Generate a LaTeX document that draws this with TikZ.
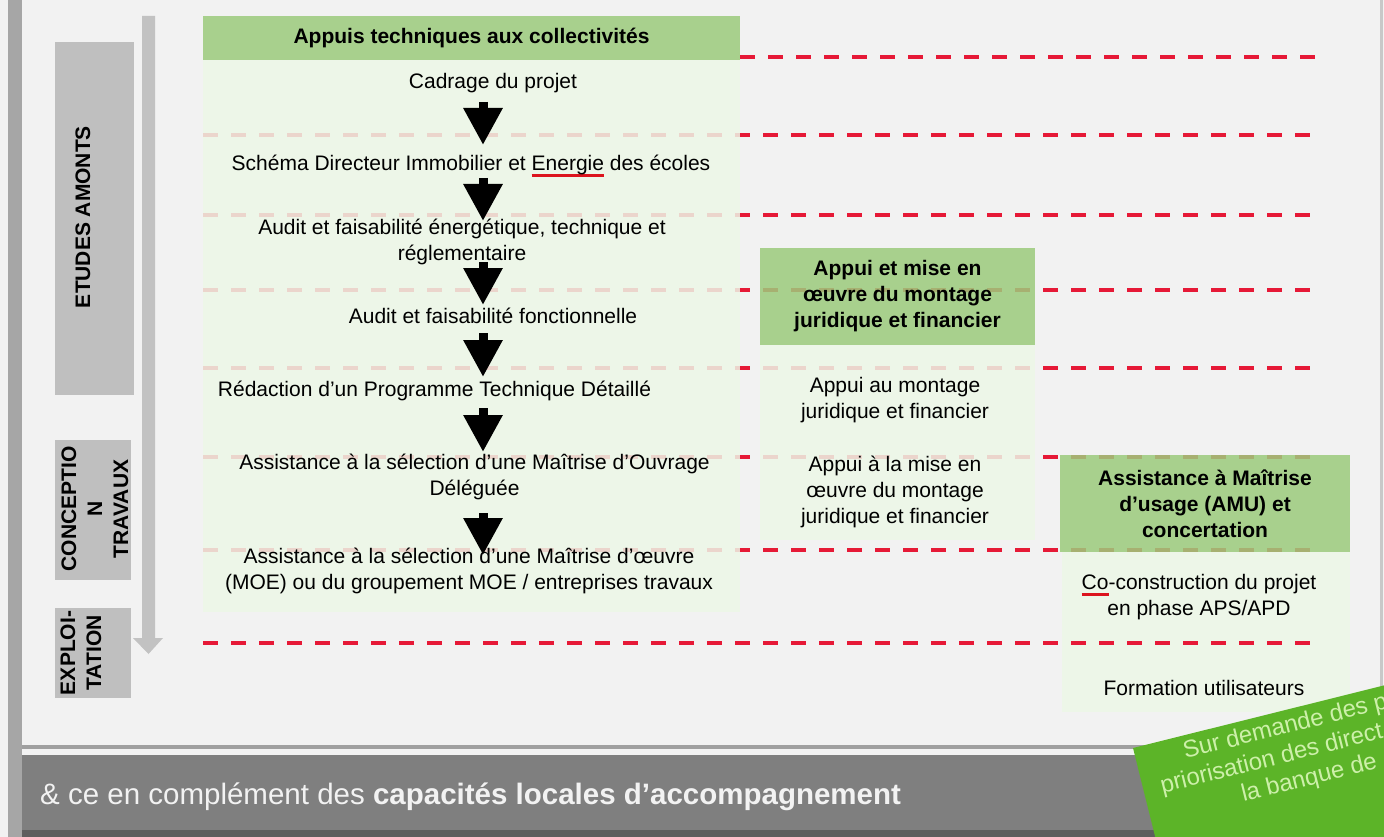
\documentclass[tikz,border=0pt]{standalone}
\usepackage{fontspec}
\setmainfont{Liberation Sans}
\usetikzlibrary{arrows.meta}
\definecolor{bgc}{RGB}{242,242,242}
\definecolor{leftbar}{RGB}{166,166,166}
\definecolor{phasegray}{RGB}{191,191,191}
\definecolor{arrowgray}{RGB}{194,194,194}
\definecolor{hdrgreen}{RGB}{156,203,124}
\definecolor{bodygreen}{RGB}{237,247,231}
\definecolor{dashred}{RGB}{230,25,55}
\definecolor{ulred}{RGB}{220,20,30}
\definecolor{btmgray}{RGB}{127,127,127}
\definecolor{btmdark}{RGB}{94,94,94}
\definecolor{btmline}{RGB}{160,160,160}
\definecolor{rborder}{RGB}{200,200,200}
\definecolor{bannergreen}{RGB}{92,180,40}
\definecolor{bannertext}{RGB}{205,240,170}
\newcommand\bfont{\fontsize{21}{26}\selectfont}
\newsavebox\ulbox
\newcommand\redul[1]{\sbox\ulbox{#1}\rlap{\color{ulred}\rule[-6pt]{\wd\ulbox}{2.5pt}}\usebox\ulbox}
\begin{document}
\begin{tikzpicture}[x=1pt,y=-1pt,
  hdr/.style={fill=hdrgreen, fill opacity=0.85, text opacity=1, font=\bfont\bfseries, align=center, inner sep=0pt, text=black},
  panelbody/.style={fill=bodygreen, fill opacity=0.85, inner sep=0pt, draw=none},
  steptxt/.style={font=\bfont, align=center, inner sep=0pt, text=black},
  phasetxt/.style={font=\bfont\bfseries, rotate=90, align=center, inner sep=0pt, text=black},
  reddash/.style={draw=dashred, line width=4pt, dash pattern=on 15pt off 13pt},
  blockarr/.style={draw=black, line width=9pt, -{Triangle[length=37pt,width=37pt]}},
  bannertxt/.style={font=\fontsize{24}{29}\selectfont, text=bannertext, inner sep=0pt, transform shape}
]
\useasboundingbox (0,0) rectangle (1384,837);
\clip (0,0) rectangle (1384,837);
\fill[bgc] (0,0) rectangle (1384,837);
% frame
\fill[leftbar] (8,0) rectangle (22,837);
\fill[rborder] (1380,0) rectangle (1383,746);
% gray time arrow
\fill[arrowgray] (142,16) -- (155,16) -- (155,638) -- (163,638) -- (148.5,654) -- (133,638) -- (142,638) -- cycle;
% phase boxes
\fill[phasegray] (55,42) rectangle (134,395);
\fill[phasegray] (55,440) rectangle (131,580);
\fill[phasegray] (55,608) rectangle (131,698);
\node[phasetxt] (p1) at (83,217) {ETUDES AMONTS};
\node[phasetxt] (p2) at (95,509) {CONCEPTIO\\N\\TRAVAUX};
\node[phasetxt] (p3) at (81,653) {EXPLOI-\\TATION};
% AMU body (below the dashes)
\node[panelbody, minimum width=288pt, minimum height=160pt] (body3) at (1206,632) {};
% dashed lines
\draw[reddash] (740,57) -- (1322,57);
\foreach \yy in {135,215,290,368,457,550,643}{
  \draw[reddash] (203,\yy) -- (1322,\yy);
}
% panel bodies
\node[panelbody, minimum width=537pt, minimum height=552pt] (body1) at (471.5,336) {};
\node[panelbody, minimum width=275pt, minimum height=195pt] (body2) at (897.5,442.5) {};
% headers
\node[hdr, minimum width=537pt, minimum height=44pt] (hdr1) at (471.5,38) {Appuis techniques aux collectivités};
\node[hdr, minimum width=275pt, minimum height=97pt] (hdr2) at (897.5,296.5) {Appui et mise en\\œuvre du montage\\juridique et financier};
\node[hdr, minimum width=290pt, minimum height=97pt] (hdr3) at (1205,503.5) {Assistance à Maîtrise\\d'usage (AMU) et\\concertation};
% steps
\node[steptxt] (s1) at (493,83) {Cadrage du projet};
\node[steptxt] (s2) at (471,166) {Schéma Directeur Immobilier et \redul{Energie} des écoles};
\node[steptxt] (s3) at (462,241.5) {Audit et faisabilité énergétique, technique et\\réglementaire};
\node[steptxt] (s4) at (493,316) {Audit et faisabilité fonctionnelle};
\node[steptxt] (s5) at (434.5,391) {Rédaction d'un Programme Technique Détaillé};
\node[steptxt] (s6) at (474.5,477) {Assistance à la sélection d’une Maîtrise d’Ouvrage\\Déléguée};
\node[steptxt] (s7) at (469,570.5) {Assistance à la sélection d’une Maîtrise d’œuvre\\(MOE) ou du groupement MOE / entreprises travaux};
\node[steptxt] (m1) at (895,400.5) {Appui au montage\\juridique et financier};
\node[steptxt] (m2) at (895,491.5) {Appui à la mise en\\œuvre du montage\\juridique et financier};
\node[steptxt] (u1) at (1199,597.5) {\redul{Co}-construction du projet\\en phase APS/APD};
\node[steptxt] (u2) at (1204,688) {Formation utilisateurs};
% black arrows
\coordinate (a1t) at (483,102); \coordinate (a1b) at (483,145);
\coordinate (a2t) at (483,178); \coordinate (a2b) at (483,221);
\coordinate (a3t) at (483,262); \coordinate (a3b) at (483,305);
\coordinate (a4t) at (483,333); \coordinate (a4b) at (483,377);
\coordinate (a5t) at (483,408); \coordinate (a5b) at (483,452);
\coordinate (a6t) at (483,513); \coordinate (a6b) at (483,555);
\foreach \i in {1,...,6}{ \draw[blockarr] (a\i t) -- (a\i b); }
% bottom band
\fill[btmline] (22,745) rectangle (1384,749);
\fill[btmgray] (22,755) rectangle (1384,837);
\fill[btmdark] (22,830) rectangle (1384,837);
\node[font=\fontsize{29.5}{35}\selectfont, text=bgc, anchor=base west, inner sep=0pt] (btm) at (40,804) {\& ce en complément des \textbf{capacités locales d’accompagnement}};
% green banner
\begin{scope}[shift={(1133,748)}, rotate=14]
\fill[bannergreen] (0,0) rectangle (500,250);
\node[bannertxt, anchor=base west] (b1) at (48,23) {Sur demande des p};
\node[bannertxt, anchor=base west] (b2) at (17.5,51) {priorisation des direct};
\node[bannertxt, anchor=base west] (b3) at (94,79) {la banque de};
\end{scope}
\end{tikzpicture}
\end{document}
